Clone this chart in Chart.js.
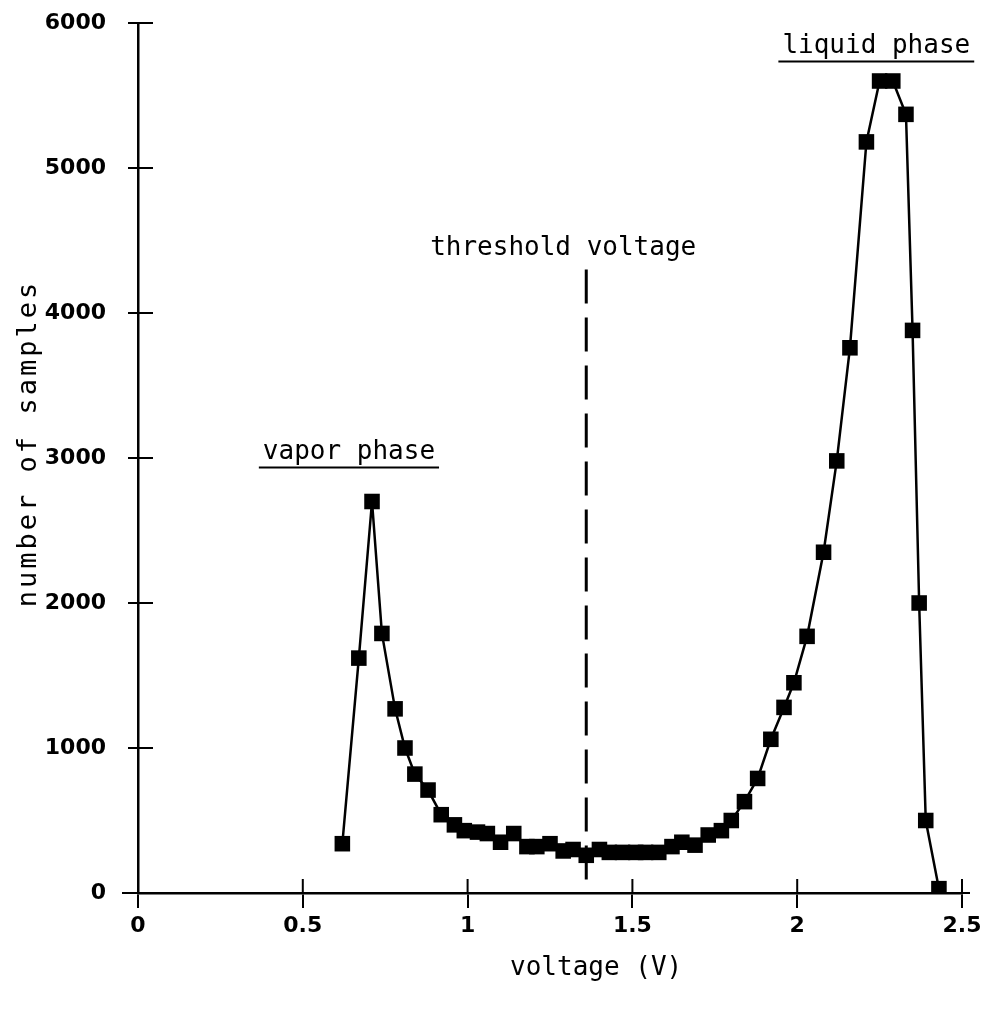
<!DOCTYPE html>
<html lang="en">
<head>
    <meta charset="UTF-8">
    <title>number of samples vs voltage</title>
    <script src="https://cdn.jsdelivr.net/npm/chart.js"></script>
    <style>
        html, body { margin: 0; padding: 0; background: #fff; }
        #wrap { width: 988px; height: 1012px; }
    </style>
</head>
<body>
    <div id="wrap"><canvas id="histChart" width="988" height="1012"></canvas></div>
    <script>
        // data
        const voltage = [0.62, 0.67, 0.71, 0.74, 0.78, 0.81, 0.84, 0.88, 0.92, 0.96,
                         0.99, 1.03, 1.06, 1.10, 1.14, 1.18, 1.21, 1.25, 1.29, 1.32,
                         1.36, 1.40, 1.43, 1.47, 1.51, 1.54, 1.58, 1.62, 1.65, 1.69,
                         1.73, 1.77, 1.80, 1.84, 1.88, 1.92, 1.96, 1.99, 2.03, 2.08,
                         2.12, 2.16, 2.21, 2.25, 2.29, 2.33, 2.35, 2.37, 2.39, 2.43];
        const samples = [340, 1620, 2700, 1790, 1270, 1000, 820, 710, 540, 470,
                         430, 420, 410, 350, 410, 320, 320, 340, 290, 300,
                         260, 300, 280, 280, 280, 280, 280, 320, 350, 330,
                         400, 430, 500, 630, 790, 1060, 1280, 1450, 1770, 2350,
                         2980, 3760, 5180, 5600, 5600, 5370, 3880, 2000, 500, 30];
        const xTicks = [0, 0.5, 1, 1.5, 2, 2.5];
        const yTicks = [0, 1000, 2000, 3000, 4000, 5000, 6000];
        const thresholdV = 1.36;

        const tickFont = { family: 'DejaVu Sans', size: 22, weight: 'bold' };
        const monoFont = '26px "DejaVu Sans Mono"';

        // inner halves of the tick marks, threshold line and the labels
        const extras = {
            id: 'extras',
            afterDraw(chart) {
                const { ctx, chartArea, scales } = chart;
                const x = scales.x, y = scales.y;
                ctx.save();
                ctx.strokeStyle = '#000';
                ctx.fillStyle = '#000';
                ctx.lineWidth = 2;
                ctx.beginPath();
                yTicks.forEach(v => {
                    const py = y.getPixelForValue(v);
                    ctx.moveTo(chartArea.left, py);
                    ctx.lineTo(chartArea.left + 15, py);
                });
                xTicks.slice(1).forEach(v => {
                    const px = x.getPixelForValue(v);
                    ctx.moveTo(px, chartArea.bottom);
                    ctx.lineTo(px, chartArea.bottom - 14);
                });
                // axis runs a little past the origin and the last tick
                ctx.moveTo(chartArea.left - 16, chartArea.bottom);
                ctx.lineTo(chartArea.left, chartArea.bottom);
                ctx.moveTo(chartArea.right, chartArea.bottom);
                ctx.lineTo(chartArea.right + 8, chartArea.bottom);
                ctx.stroke();

                // threshold voltage
                const tx = x.getPixelForValue(thresholdV);
                ctx.lineWidth = 3;
                ctx.setLineDash([34, 14]);
                ctx.beginPath();
                ctx.moveTo(tx, y.getPixelForValue(4300));
                ctx.lineTo(tx, chartArea.bottom);
                ctx.stroke();
                ctx.setLineDash([]);

                ctx.font = monoFont;
                ctx.textAlign = 'center';
                ctx.textBaseline = 'alphabetic';
                ctx.fillText('threshold voltage', x.getPixelForValue(1.29), y.getPixelForValue(4400));

                const underlined = (text, v, n) => {
                    const cx = x.getPixelForValue(v), cy = y.getPixelForValue(n);
                    ctx.fillText(text, cx, cy);
                    const w = ctx.measureText(text).width;
                    ctx.lineWidth = 2;
                    ctx.beginPath();
                    ctx.moveTo(cx - w / 2 - 4, cy + 8);
                    ctx.lineTo(cx + w / 2 + 4, cy + 8);
                    ctx.stroke();
                };
                underlined('vapor phase', 0.64, 2990);
                underlined('liquid phase', 2.24, 5790);

                // axis titles
                ctx.fillText('voltage (V)', x.getPixelForValue(1.39), chartArea.bottom + 82);
                ctx.translate(36, y.getPixelForValue(3100));
                ctx.rotate(-Math.PI / 2);
                ctx.font = '27px "DejaVu Sans Mono"';
                ctx.letterSpacing = '3px';
                ctx.fillText('number of samples', 0, 0);
                ctx.restore();
            }
        };

        const points = voltage.map((v, i) => ({ x: v, y: samples[i] }));

        new Chart(document.getElementById('histChart'), {
            type: 'line',
            data: {
                datasets: [{
                    data: points,
                    borderColor: '#000',
                    borderWidth: 2.5,
                    backgroundColor: '#000',
                    pointStyle: 'rect',
                    pointRadius: 11,
                    pointBorderWidth: 0,
                    tension: 0
                }]
            },
            options: {
                responsive: false,
                animation: false,
                events: [],
                layout: { autoPadding: false, padding: { top: 23, right: 26, left: 0, bottom: 0 } },
                plugins: { legend: { display: false }, tooltip: { enabled: false } },
                scales: {
                    x: {
                        type: 'linear',
                        min: 0,
                        max: 2.5,
                        afterBuildTicks: s => { s.ticks = xTicks.map(v => ({ value: v })); },
                        afterFit: s => { s.height = 119; s.paddingLeft = 0; s.paddingRight = 0; },
                        border: { display: true, color: '#000', width: 2.5 },
                        grid: { drawOnChartArea: false, drawTicks: true, tickLength: 15, color: '#000', lineWidth: 2 },
                        ticks: { color: '#000', font: tickFont, padding: 5, maxRotation: 0, callback: v => String(v) }
                    },
                    y: {
                        min: 0,
                        max: 6000,
                        afterBuildTicks: s => { s.ticks = yTicks.map(v => ({ value: v })); },
                        afterFit: s => { s.width = 138; s.paddingTop = 0; s.paddingBottom = 0; },
                        border: { display: true, color: '#000', width: 2.5 },
                        grid: { drawOnChartArea: false, drawTicks: true, tickLength: 10, color: '#000', lineWidth: 2 },
                        ticks: { color: '#000', font: tickFont, padding: 22, callback: v => String(v) }
                    }
                }
            },
            plugins: [extras]
        });
    </script>
</body>
</html>
